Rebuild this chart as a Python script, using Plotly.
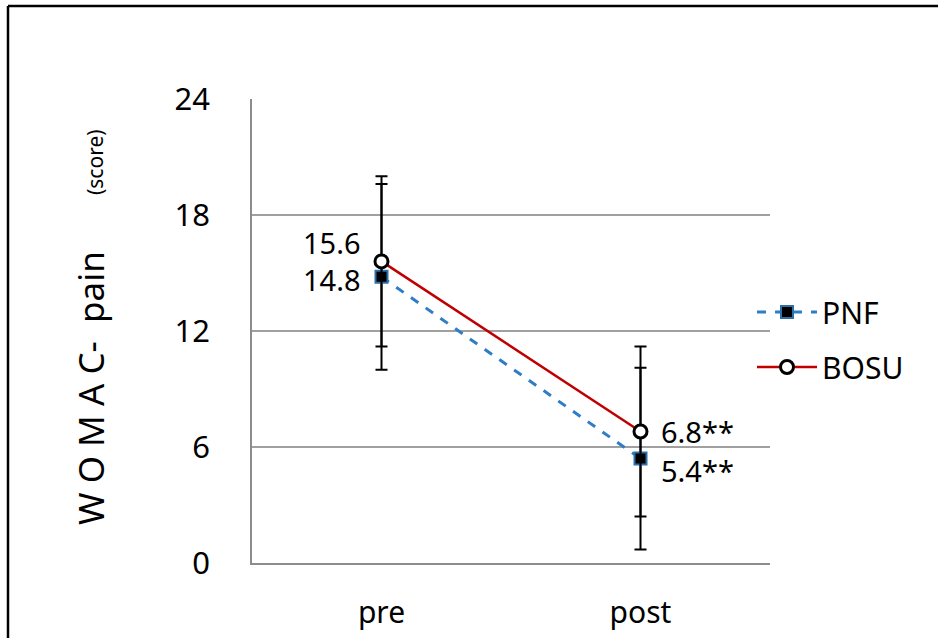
import plotly.graph_objects as go

categories = ["pre", "post"]
pnf_values = [14.8, 5.4]
pnf_sd = [4.8, 4.7]
bosu_values = [15.6, 6.8]
bosu_sd = [4.4, 4.4]
pnf_labels = ["14.8", "5.4**"]
bosu_labels = ["15.6", "6.8**"]
y_ticks = [0, 6, 12, 18, 24]

FONT = "Noto Sans"
W, H = 938, 638
L, R, T, B = 252, 168, 99, 75
pw, ph = W - L - R, H - T - B

fig = go.Figure()
fig.add_trace(go.Scatter(
    x=categories, y=pnf_values, name="PNF", mode="lines+markers",
    line=dict(color="#2F7DC6", width=3, dash="dash"),
    marker=dict(symbol="square", size=12, color="black", line=dict(color="#2F6FA8", width=2)),
    error_y=dict(type="data", array=pnf_sd, color="black", thickness=2, width=6),
    legendgroup="a",
))
fig.add_trace(go.Scatter(
    x=categories, y=bosu_values, name="BOSU", mode="lines+markers",
    line=dict(color="#C00000", width=2.5),
    marker=dict(symbol="circle", size=13, color="white", line=dict(color="black", width=3)),
    error_y=dict(type="data", array=bosu_sd, color="black", thickness=2, width=6),
    legendgroup="b",
))

LBL = dict(family=FONT, size=29, color="black")
for i, c in enumerate(categories):
    if i == 0:
        fig.add_annotation(x=c, y=bosu_values[i], text=bosu_labels[i], showarrow=False,
                           xanchor="right", yanchor="middle", xshift=-19, yshift=19, font=LBL)
        fig.add_annotation(x=c, y=pnf_values[i], text=pnf_labels[i], showarrow=False,
                           xanchor="right", yanchor="middle", xshift=-19, yshift=-3, font=LBL)
    else:
        fig.add_annotation(x=c, y=bosu_values[i], text=bosu_labels[i], showarrow=False,
                           xanchor="left", yanchor="middle", xshift=18, yshift=0, font=LBL)
        fig.add_annotation(x=c, y=pnf_values[i], text=pnf_labels[i], showarrow=False,
                           xanchor="left", yanchor="middle", xshift=18, yshift=-12, font=LBL)

# y-axis titles
fig.add_annotation(xref="paper", yref="paper", x=(90 - L) / pw, y=(H - B - 388) / ph,
                   text="W O M A C-  pain", textangle=-90, showarrow=False,
                   xanchor="center", yanchor="middle",
                   font=dict(family=FONT, size=35, color="black"))
fig.add_annotation(xref="paper", yref="paper", x=(95 - L) / pw, y=(H - B - 162) / ph,
                   text="(score)", textangle=-90, showarrow=False,
                   xanchor="center", yanchor="middle",
                   font=dict(family=FONT, size=21, color="black"))

# outer frame (top and left edges visible)
x0 = (8 - L) / pw
y0 = (H - B - 6) / ph
fig.add_shape(type="line", xref="paper", yref="paper", x0=x0, x1=(W + 5 - L) / pw, y0=y0, y1=y0,
              line=dict(color="black", width=2.5))
fig.add_shape(type="line", xref="paper", yref="paper", x0=x0, x1=x0, y0=y0, y1=(H - B - H - 5) / ph,
              line=dict(color="black", width=2.5))

fig.update_layout(
    width=W, height=H,
    margin=dict(l=L, r=R, t=T, b=B, autoexpand=False),
    paper_bgcolor="white", plot_bgcolor="white",
    font=dict(family=FONT, color="black"),
    showlegend=True,
    legend=dict(x=(752 - L) / pw, y=(H - B - 286) / ph, xanchor="left", yanchor="top",
                font=dict(family=FONT, size=30, color="black"),
                tracegroupgap=13, itemwidth=60, bgcolor="rgba(0,0,0,0)"),
    xaxis=dict(type="category", range=[-0.5, 1.5], showgrid=False, automargin=False,
               showline=True, linecolor="#8C8C8C", linewidth=1.5,
               ticks="", tickfont=dict(family=FONT, size=30), ticklabelstandoff=22),
    yaxis=dict(range=[0, 24], tickvals=y_ticks, showgrid=True, gridcolor="#A0A0A0", gridwidth=1.5,
               showline=True, linecolor="#8C8C8C", linewidth=1.5, zeroline=False, automargin=False,
               ticks="", tickfont=dict(family=FONT, size=31), ticklabelstandoff=34),
)

fig.write_html("out.html", config={"displayModeBar": False})
with open("out.html", "r", encoding="utf-8") as f:
    html = f.read()
html = html.replace("<body>", '<body style="margin:0;overflow:hidden">', 1)
with open("out.html", "w", encoding="utf-8") as f:
    f.write(html)
